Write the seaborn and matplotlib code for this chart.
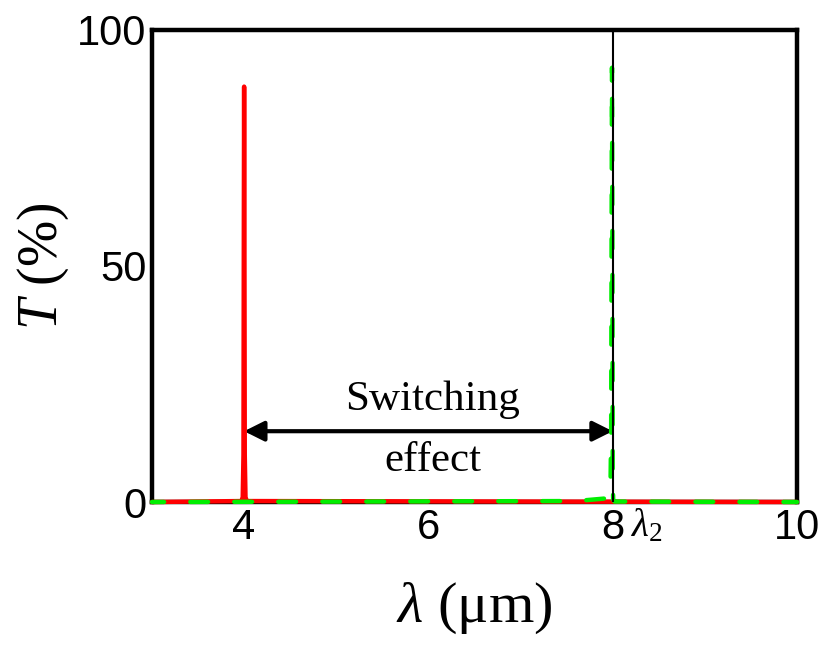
import matplotlib
matplotlib.use("Agg")
import matplotlib.pyplot as plt
import seaborn as sns
import numpy as np
import pandas as pd

red_wl = [3.0, 3.97, 3.985, 3.993, 3.997, 4.0, 4.003, 4.007, 4.015, 4.03, 10.0]
red_T = [0.0, 0.2, 1.0, 10.0, 60.0, 88.0, 60.0, 10.0, 1.0, 0.2, 0.0]

green_wl = [3.0, 7.6, 7.95, 7.975, 7.983, 7.988, 7.992, 7.996, 8.0, 8.005, 8.02, 10.0]
green_T = [0.0, 0.2, 0.8, 2.0, 15.0, 60.0, 92.0, 60.0, 5.0, 0.5, 0.1, 0.0]

x_ticks = [4, 6, 8, 10]
y_ticks = [0, 50, 100]
lambda2 = 8.0
arrow_y = 15

red_df = pd.DataFrame({"wl": red_wl, "T": red_T})
green_df = pd.DataFrame({"wl": green_wl, "T": green_T})

sns.set_theme(style="white")
plt.rcParams["font.family"] = ["Liberation Sans", "DejaVu Sans"]
plt.rcParams["mathtext.fontset"] = "custom"
plt.rcParams["mathtext.rm"] = "Liberation Serif"
plt.rcParams["mathtext.it"] = "Liberation Serif:italic"
plt.rcParams["text.color"] = "black"
plt.rcParams["xtick.color"] = "black"
plt.rcParams["ytick.color"] = "black"
plt.rcParams["axes.labelcolor"] = "black"

DPI = 100
LW = 3.2
fig = plt.figure(figsize=(8.21, 6.46), dpi=DPI)
ax = fig.add_axes([0.1851, 0.2229, 0.7857, 0.7307])

sns.lineplot(data=red_df, x="wl", y="T", ax=ax, color="#ff0000", lw=LW,
             sort=False, estimator=None)
sns.lineplot(data=green_df, x="wl", y="T", ax=ax, color="#00ee00", lw=LW,
             sort=False, estimator=None)

ax.set_xlim(3, 10)
ax.set_ylim(0, 100)

red_line, green_line = ax.get_lines()[-2:]
red_line.set_solid_capstyle("round")
red_line.set_solid_joinstyle("round")

# Dash pattern (in linewidth units); phase chosen so the rising and falling
# flanks of the narrow peak overlap into visible dashes with gaps between.
dash_on, dash_off = 4.0, 5.9
period = dash_on + dash_off
pix = ax.transData.transform(np.column_stack([green_wl, green_T]))
seg = np.hypot(*np.diff(pix, axis=0).T)
arc = np.concatenate([[0.0], np.cumsum(seg)]) * 72.0 / DPI / LW
apex_arc = arc[int(np.argmax(green_T))]
shift = 1.8
offset = ((dash_on + shift - 2 * apex_arc) / 2.0) % (period / 2.0)
green_line.set_linestyle((offset, (dash_on, dash_off)))
green_line.set_dash_capstyle("round")

for ln, z in ((red_line, 7), (green_line, 8)):
    ln.set_zorder(z)
    ln.set_clip_on(False)

ax.axvline(lambda2, color="black", lw=1.5, zorder=9)

ax.set_xticks(x_ticks)
ax.set_yticks(y_ticks)
ax.set_xticklabels([str(v) for v in x_ticks])
ax.set_yticklabels([str(v) for v in y_ticks])
ax.tick_params(direction="in", length=10, width=3, labelsize=30,
               colors="black", pad=4, top=False, right=False)
for s in ax.spines.values():
    s.set_linewidth(LW)
    s.set_color("black")
    s.set_zorder(5)

ax.set_xlabel(r"$\mathit{\lambda}$ (μm)", fontsize=42, family="Liberation Serif",
              labelpad=24)
ax.set_ylabel(r"$\mathit{T}$ (%)", fontsize=40, family="Liberation Serif",
              labelpad=4)

ax.annotate("", xy=(lambda2, arrow_y), xytext=(4.0, arrow_y),
            arrowprops=dict(arrowstyle="<|-|>", lw=3, color="black",
                            mutation_scale=30, shrinkA=0, shrinkB=0),
            zorder=6)
ax.text(6.05, 21.7, "Switching", fontsize=31, family="Liberation Serif",
        ha="center", va="center")
ax.text(6.05, 8.7, "effect", fontsize=31, family="Liberation Serif",
        ha="center", va="center")
ax.text(8.2, -1.0, r"$\mathit{\lambda}_2$", fontsize=28, ha="left", va="top",
        clip_on=False)

fig.savefig("out.png", dpi=DPI)
